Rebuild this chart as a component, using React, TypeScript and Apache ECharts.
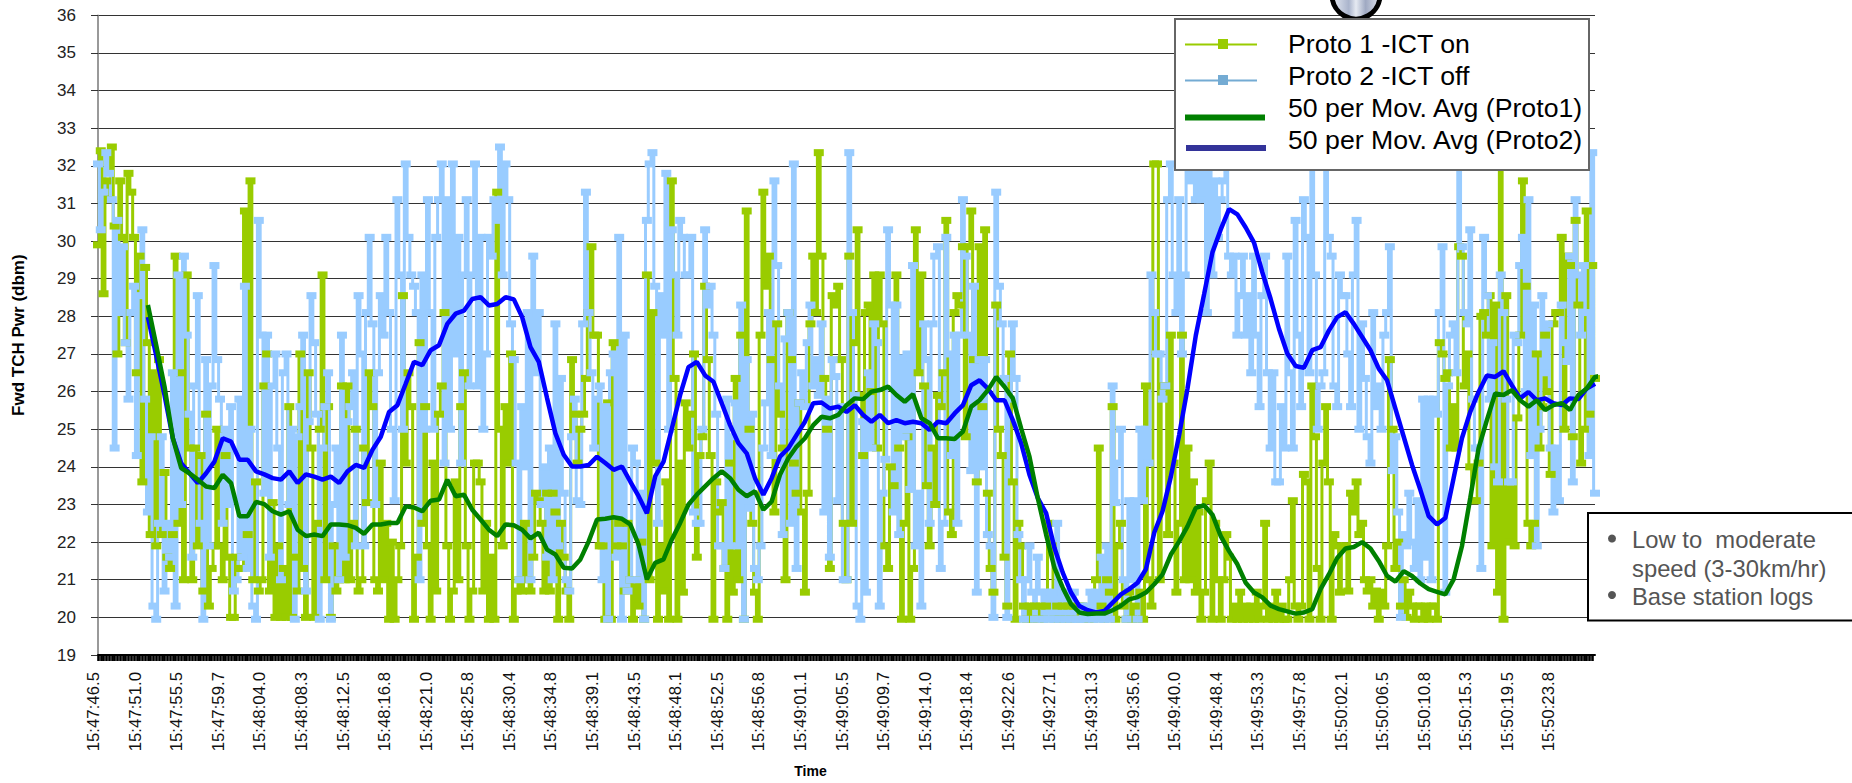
import React, { useEffect, useRef } from "react";
import * as echarts from "echarts";

const tickLabels = ["15:47:46.5","15:47:51.0","15:47:55.5","15:47:59.7","15:48:04.0","15:48:08.3","15:48:12.5","15:48:16.8","15:48:21.0","15:48:25.8","15:48:30.4","15:48:34.8","15:48:39.1","15:48:43.5","15:48:48.1","15:48:52.5","15:48:56.8","15:49:01.1","15:49:05.5","15:49:09.7","15:49:14.0","15:49:18.4","15:49:22.6","15:49:27.1","15:49:31.3","15:49:35.6","15:49:40.0","15:49:48.4","15:49:53.3","15:49:57.8","15:50:02.1","15:50:06.5","15:50:10.8","15:50:15.3","15:50:19.5","15:50:23.8"];
const samplesPerLabel = 15;
const sampleCount = 541;

const proto1 = [
29.9,32.4,28.6,31.6,31.1,32.5,30.4,27,31.6,30.1,27.3,31.8,31.3,30.1,26.5,29.6,23.6,29.3,27.3,22.2,
26.5,21.9,26.85,22.2,23.85,21.6,21.3,22.2,29.6,22.5,26.5,21,29.1,24.5,21,24.5,21.9,24.3,20.7,25.4,
20.3,21.3,21.9,25,21.9,21,24.3,21.6,20,20,21.6,21.3,21.3,30.8,22.2,31.6,21,23.6,20.7,21,
26.15,27,20.7,23.05,20,21.9,20,21.3,20,25.6,20,21.6,20.7,27,21.3,20,26.5,24.5,20,22.5,
25,29.1,21,25.6,20,21.9,20.7,21,26.15,21,
26.15,21,22.5,25,20.7,21,24.5,23.05,26.5,25.6,21,20.7,24.1,21,22.5,19.95,22,19.95,21,21.9,
28.55,24.1,26.5,25.6,19.95,21.6,27.3,22.5,25.6,21.9,19.95,24.1,20.7,25.4,26.15,28.1,21.9,19.95,20.7,23.6,
21,25.6,26.5,21.9,19.95,20.7,24.1,24.1,23.6,20.7,22.5,19.95,21.6,19.95,31.3,25,21.9,25.6,24.1,27,
19.95,20.7,21,20.7,22.5,21,20.7,21.6,23.3,23.1,22.5,20.7,23.3,20.7,23.3,22.8,19.95,22.5,21.6,20.7,
19.95,26.85,25.4,24.1,25,25.4,26.35,28.1,29.85,27.5,
27.5,21.9,21.9,19.95,25.7,19.95,27.3,21.9,22.5,21.9,20.7,22.5,21,19.95,21,20.3,22,19.95,29.1,21,
28.1,24.1,19.95,21.9,20.7,23.6,19.95,31.6,26.35,19.95,24.1,20.67,25.7,24.5,25.4,27,21.6,24.3,24.8,28.8,
26.85,24.3,19.95,23.6,22.8,23.05,21.3,19.95,24.1,20.67,26.35,21,27.5,19.95,30.8,25,22.5,20.67,19.95,27.5,
31.3,28.8,29.6,26.85,22.8,27.8,25.4,24.5,21,28.1,26.85,24.1,23.3,25.7,22.8,20.67,23.3,27.8,29.6,28.1,
32.35,29.6,26.35,25,21.3,28.55,28.3,28.8,26.85,22.5,
21,29.6,22.5,27.3,30.3,25.9,24.3,28.1,28.3,26,29.1,24.5,29.1,27.8,21.9,21.3,24,23.5,29.1,24.5,
19.95,22.5,24.8,19.95,21.3,30.3,26.5,29.1,26.15,23.5,21.9,24.5,23,25.9,25.6,26.5,30.55,22.8,22.2,28.1,
28.55,28.3,29.85,24.8,29.85,30.8,26.85,23.6,29.85,25.6,30.3,23.3,21.3,20.67,28.3,25,24.3,21.6,20.3,27,
23.6,19.95,22.5,21.9,20.3,19.95,20.3,19.95,20.3,19.95,20.3,19.95,20.3,22.5,21.9,19.95,20.3,19.95,20.3,19.95,
20.3,19.95,20.3,19.95,20.3,20.3,19.95,19.95,20.1,19.95,
21,24.5,20.3,19.95,21,20.67,25.6,19.95,21.9,22.5,20.3,19.95,20.67,19.95,20.3,19.95,20.67,19.95,26.15,21,
20.3,32.05,32.05,21,26.15,26.15,22.2,27.5,24.1,20.67,22.5,27.5,21,24.5,21,23.6,20.67,22.8,19.95,20.67,
23.1,24.1,19.95,22.5,21,19.95,21,22.2,21.6,19.95,20.3,19.95,20.67,19.95,20.3,19.95,20.3,19.95,20.67,19.95,
20.3,22.5,19.95,20.3,19.95,20.67,19.95,20.3,19.95,19.95,21,23.1,20.3,19.95,20.3,23.8,23.6,19.95,26.15,24.8,
21.3,19.95,24.1,25.6,23.6,19.95,22.2,21.9,20.67,21.9,
21.9,20.7,23.3,22.8,23.6,22.2,22.5,21,20.7,21,20.3,20.7,19.95,20.67,20.3,21.9,26.85,25,21.3,22,
20.3,21,20,20.67,20.3,19.95,20.3,20.3,19.95,20.3,19.95,20.3,20.3,19.95,27.3,27,26.35,26.5,24.5,25.6,
24.5,29.85,29.6,26.15,27,24,23.1,23.1,24.1,28,28.1,27.5,28.55,21.9,28.3,20.67,32.4,19.95,28.55,22,
23.5,21.9,25.3,27.5,31.6,28.8,22.5,21.9,22.5,27,24.5,25.6,27.5,26,23.8,27.8,28.1,28.1,30.1,25,
29.6,29.35,24.8,30.55,28.3,24.1,25,30.8,25.4,29.35,26.35
];

const proto2 = [
32.05,30.3,31.3,32.35,31.8,31.1,24.5,30.55,28.1,29.85,27.3,25.8,28.1,28.8,24.3,28.55,30.3,25.8,22.8,24.8,
20.3,19.95,22.5,24.8,20.7,22.5,21.6,26.5,20.3,29.1,23,29.6,27.5,25.4,21.6,26.15,28.55,22.5,19.95,26.85,
21.9,26.15,29.35,26.85,25.8,22.5,25,23,25.6,20.7,21,25.8,21.6,28.8,21.3,25,20.3,19.95,30.55,27.5,
23.3,27.5,21.6,26.15,27,24.5,21,26.5,27,23,25,19.95,24.8,25.6,27.5,20.7,25.2,28.55,27.3,25.4,
19.95,24.5,25.6,26.5,19.95,23,24.5,21,27.5,21.6,
25.2,25.6,26.5,21.9,28.55,27,21.9,28.1,30.1,27.8,23,26.5,28.55,27.5,30.1,28.1,25,23.1,31.1,29.1,
25,32.05,30.1,29.1,28.8,28.1,21,29.1,25,31.1,28.1,25,30.1,31.1,32.05,24.1,31.1,25,32.05,27,
30.1,24.1,29.1,31.1,26.15,29.1,32.05,26.15,30.1,25,27,30.1,29.6,31.1,30.55,32.5,29.1,32.05,31.1,27.8,
26.85,24.1,21,25.6,24,28.1,21,29.6,26.5,28.1,23,24,21.6,24.5,21,27.8,21.9,26.35,23.3,21,
20.7,24.8,25.8,23.1,23,27.8,31.3,28.1,26.5,24.5,
25.8,26.15,21,25.6,19.95,26.5,27,21.6,30.1,19.95,27.5,20.7,21,24.5,24.1,21,23.3,19.95,30.55,32.05,
32.35,28.8,22.5,28.55,27.5,31.8,25,30.3,29.1,27.5,30.55,30.1,29.1,29.1,30.1,22.8,22.5,22.5,25,30.3,
28.3,28.8,27.5,25.4,21.9,21.9,21.3,25.8,21.9,24.8,25.7,21.9,28.3,19.95,26.85,22.9,25.4,21.3,21,21.9,
24.5,25.7,28.1,24.3,31.6,29.35,26.15,22.2,27.4,28.1,22.5,32.05,21.3,25.7,26.5,25.6,27.3,28.3,26.15,26.85,
25.9,27.8,22.8,25.8,21.6,26.85,26.4,23.1,25.6,21,
21,32.35,28.1,25.9,20.3,19.95,25.2,20.67,26.5,24.5,27.8,27.3,20.3,23.3,24.2,30.3,28.3,22.8,28.3,22.2,
26.9,24.8,27,23.4,29.35,21.9,23.3,20.3,27.8,26.85,22.5,27.8,29.6,29.85,21.3,22.5,30.1,27,24.3,27.5,
22.5,27.5,31.1,29.6,27.5,23.9,28.8,20.67,26.85,24,26.85,22.2,21.9,20,31.3,28.8,27.8,26.35,20,25.8,
27.8,26.35,22.2,21,19.95,21,21.9,20.67,19.95,21.6,20.67,19.95,20.67,19.95,20.67,19.95,22.5,19.95,20.67,19.95,
20.67,19.95,20.67,19.95,19.95,20.3,19.95,20.3,20.67,19.95,
20.67,19.95,21.6,19.95,21.9,19.95,26.15,23.05,24.1,25,21,19.95,23.1,21,23.1,19.95,25,23.1,25,24.1,
29.1,28.1,27,27,25.8,26.15,31.1,32.05,29.1,28.1,31.1,27,29.1,32.05,31.6,32.05,31.1,32.05,31.1,32.05,
28.1,32.05,29.1,31.6,30.1,31.1,31.6,32.05,29.6,29.1,29.6,27.5,28.55,29.6,27.5,28.55,26.5,29.6,27.5,25.6,
28.55,29.6,26.5,24.5,26.5,23.6,23.6,25.6,24.5,29.6,26.5,24.5,30.55,27.5,25.6,31.1,30.1,26.5,32.05,29.1,
25,26.15,26.5,32.05,30.1,29.6,26.15,25.6,29.1,28.55,
28.55,27,25.6,29.1,30.55,25,27.8,26.35,24.8,24.1,28.1,25.6,26.15,25,27.5,28.1,29.85,23.9,24.8,22.8,
20,22.2,21.9,23.3,22,21.3,23.1,21,25.8,21.6,25.8,21,25.8,25.4,28.1,29.85,20.67,26.15,27.5,27.8,
26.5,32.4,29.85,28.1,27.8,30.3,25.8,24.5,24.5,21.3,30.1,28.55,25.8,27.3,24,23.6,29.1,28.1,25.8,23.6,
23.6,27.5,27.3,29.35,30.1,26,31.1,24.3,28.3,21.9,25,28.55,26.5,27.8,24.5,22.8,24.5,23.1,28.3,27.3,
26.8,29.6,23.6,31.1,29.1,27.5,29.35,28.1,24.3,32.35,23.3
];

const avgFirstSample = 18;
const avgSampleStep = 3;

const avgProto1 = [
28.3,27.23,26.13,24.76,23.97,23.83,23.66,23.48,23.44,23.79,23.57,22.69,22.69,23.07,23.01,22.82,22.73,22.82,22.33,22.16,22.2,22.16,22.47,22.47,22.45,
22.38,22.22,22.47,22.47,22.51,22.51,22.95,22.92,22.82,23.1,23.13,23.66,23.22,23.26,22.86,22.6,22.33,22.16,22.47,22.45,22.33,22.1,22.25,21.8,21.67,21.32,21.3,21.54,22.02,22.6,
22.62,22.66,22.62,22.47,21.94,21.01,21.45,21.54,22.07,22.51,23,23.26,23.48,23.7,23.88,23.7,23.39,23.22,23.35,22.86,23.08,23.79,24.23,24.54,24.76,25.11,25.33,25.29,25.38,25.64,25.82,
25.8,26,26.04,26.13,25.91,25.73,25.93,25.29,25.16,24.76,24.76,24.74,24.94,25.6,25.77,26.04,26.39,26.13,25.82,25.02,24.27,23.17,22.2,21.32,20.79,20.35,20.13,20.09,20.1,20.1,
20.19,20.31,20.48,20.54,20.66,20.88,21.14,21.67,22.02,22.42,22.91,22.98,22.73,22.16,21.76,21.41,20.92,20.66,20.53,20.31,20.22,20.16,20.1,20.13,20.22,20.75,21.14,21.58,21.83,21.87,
22,21.83,21.5,21.1,20.95,21.23,21.1,20.9,20.75,20.68,20.61,21.01,21.89,23.17,24.49,25.24,25.95,25.91,26.04,25.77,25.6,25.77,25.51,25.64,25.69,25.51,25.91,26.08,26.39,26.43
];

const avgProto2 = [
27.98,26.96,25.9,24.76,24.1,23.83,23.57,23.83,24.14,24.76,24.67,24.19,24.19,23.88,23.8,23.7,23.66,23.88,23.57,23.8,23.74,23.66,23.74,23.57,23.88,
24.05,23.97,24.45,24.8,25.46,25.64,26.21,26.79,26.7,27.1,27.23,27.8,28.07,28.15,28.46,28.51,28.29,28.33,28.51,28.45,27.98,27.18,26.79,25.82,24.89,24.32,24.01,24.01,24.05,24.27,
24.1,23.92,24.01,23.61,23.22,22.77,23.75,24.14,25.02,25.91,26.65,26.79,26.43,26.26,25.69,25.11,24.63,24.36,23.7,23.26,23.7,24.27,24.49,24.85,25.2,25.69,25.71,25.55,25.6,25.46,
25.64,25.38,25.2,25.38,25.16,25.24,25.16,25.2,25.16,24.98,25.2,25.16,25.42,25.64,26.17,26.3,26.08,25.77,25.77,25.24,24.63,23.79,23.17,22.77,21.85,21.19,20.66,20.3,20.19,20.13,
20.17,20.39,20.61,20.75,20.92,21.28,22.25,22.82,23.74,24.85,26.08,27.49,28.59,29.7,30.31,30.85,30.71,30.36,29.96,29.17,28.46,27.67,27.01,26.68,26.63,27.1,27.18,27.62,27.98,28.11,
27.8,27.45,27.1,26.61,26.3,25.55,24.8,24.05,23.39,22.69,22.47,22.64,23.7,24.76,25.46,25.99,26.43,26.39,26.54,26.17,25.82,25.99,25.77,25.82,25.69,25.64,25.82,25.8,26.08,26.21
];

const legendNames = ["Proto 1 -ICT on", "Proto 2 -ICT off", "50 per Mov. Avg (Proto1)", "50 per Mov. Avg (Proto2)"];
const noteLines = ["Low to  moderate", "speed (3-30km/hr)", "Base station logs"];

const categories = Array.from({ length: sampleCount }, (_, i) => (i % samplesPerLabel === 0 ? tickLabels[i / samplesPerLabel] ?? "" : ""));
const toPairs = (vals: number[]) => vals.map((v, k) => [avgFirstSample + k * avgSampleStep, v]);
const FONT = "Liberation Sans, Arial, sans-serif";

export default function App() {
  const ref = useRef<HTMLDivElement>(null);
  useEffect(() => {
    document.body.style.margin = "0";
    const chart = echarts.init(ref.current!, undefined, { renderer: "svg" });
    const noisy = (name: string, data: number[], color: string) => ({
      name, type: "line", data, animation: false, clip: false, step: "middle",
      showSymbol: true, showAllSymbol: true, symbol: "rect", symbolSize: [10, 7],
      lineStyle: { color, width: 3 }, itemStyle: { color },
    });
    const avg = (name: string, data: number[], color: string) => ({
      name, type: "line", data: toPairs(data), animation: false, clip: false,
      showSymbol: false, symbol: "none", lineStyle: { color, width: 4.5 }, itemStyle: { color }, z: 5,
    });
    const Z = 100;
    const legendText = (i: number, y: number) => ({
      type: "text", z: Z + 1, x: 1288, y,
      style: { text: legendNames[i], font: `26.7px ${FONT}`, fill: "#000", verticalAlign: "middle" },
    });
    chart.setOption({
      animation: false,
      backgroundColor: "#fff",
      grid: { left: 98, top: 15.3, width: 1497, height: 642.4, containLabel: false },
      xAxis: {
        type: "category", data: categories, boundaryGap: false,
        name: "Time", nameLocation: "middle", nameGap: 109,
        nameTextStyle: { fontFamily: FONT, fontWeight: "bold", fontSize: 14, color: "#000", padding: [0, 72, 0, 0] },
        axisLine: { lineStyle: { color: "#000", width: 2 } },
        axisTick: { show: true, interval: 0, length: 6, lineStyle: { color: "#000", width: 2.6 } },
        axisLabel: {
          interval: samplesPerLabel - 1, rotate: 90, margin: 17, fontFamily: FONT, fontSize: 16.8, color: "#111",
          verticalAlign: "bottom", padding: [0, 0, -4, 0], hideOverlap: false, showMinLabel: true, showMaxLabel: false,
        },
        splitLine: { show: false },
      },
      yAxis: {
        type: "value", min: 19, max: 36, interval: 1,
        name: "Fwd TCH Pwr (dbm)", nameLocation: "middle", nameGap: 71, nameRotate: 90,
        nameTextStyle: { fontFamily: FONT, fontWeight: "bold", fontSize: 17, color: "#000" },
        axisLine: { show: true, lineStyle: { color: "#777", width: 1.5 } },
        axisTick: { show: true, length: 7, lineStyle: { color: "#333" } },
        axisLabel: { margin: 22, fontFamily: FONT, fontSize: 17, color: "#222" },
        splitLine: { show: true, lineStyle: { color: "#333", width: 1 } },
      },
      series: [
        noisy(legendNames[0], proto1, "#99CC00"),
        noisy(legendNames[1], proto2, "#99CCFF"),
        avg(legendNames[3], avgProto2, "#0000FF"),
        avg(legendNames[2], avgProto1, "#008000"),
      ],
      graphic: [
        { type: "circle", z: Z - 1, shape: { cx: 1356, cy: -5, r: 24 },
          style: { stroke: "#000", lineWidth: 5,
            fill: { type: "linear", x: 0, y: 0, x2: 1, y2: 0, colorStops: [
              { offset: 0, color: "#e8ecf4" }, { offset: 0.35, color: "#aab4cc" }, { offset: 0.5, color: "#e6eaf2" },
              { offset: 0.7, color: "#9fa9c2" }, { offset: 1, color: "#dfe3ec" } ] } } },
        { type: "rect", z: Z, shape: { x: 1175, y: 19, width: 414, height: 151 }, style: { fill: "#fff", stroke: "#666", lineWidth: 2 } },
        { type: "line", z: Z + 1, shape: { x1: 1185, y1: 44.5, x2: 1257, y2: 44.5 }, style: { stroke: "#99CC00", lineWidth: 2 } },
        { type: "rect", z: Z + 1, shape: { x: 1218, y: 39, width: 10, height: 10 }, style: { fill: "#99CC00" } },
        { type: "line", z: Z + 1, shape: { x1: 1185, y1: 80.5, x2: 1257, y2: 80.5 }, style: { stroke: "#74ABD3", lineWidth: 2 } },
        { type: "rect", z: Z + 1, shape: { x: 1218, y: 75, width: 10, height: 10 }, style: { fill: "#74ABD3" } },
        { type: "rect", z: Z + 1, shape: { x: 1185, y: 114.5, width: 80, height: 6 }, style: { fill: "#008000" } },
        { type: "rect", z: Z + 1, shape: { x: 1186, y: 145, width: 80, height: 6 }, style: { fill: "#333399" } },
        legendText(0, 44), legendText(1, 76), legendText(2, 108), legendText(3, 140),
        { type: "rect", z: Z, shape: { x: 1588, y: 513, width: 280, height: 107.5 }, style: { fill: "#fff", stroke: "#000", lineWidth: 2 } },
        { type: "circle", z: Z + 1, shape: { cx: 1612, cy: 538.5, r: 4 }, style: { fill: "#555" } },
        { type: "circle", z: Z + 1, shape: { cx: 1612, cy: 595, r: 4 }, style: { fill: "#555" } },
        ...noteLines.map((t, i) => ({
          type: "text", z: Z + 1, x: 1632, y: [539, 568, 596][i],
          style: { text: t, font: `23.8px ${FONT}`, fill: "#555", verticalAlign: "middle" },
        })),
      ],
    });
    return () => chart.dispose();
  }, []);
  return <div ref={ref} style={{ position: "absolute", left: 0, top: 0, width: 1852, height: 783 }} />;
}
